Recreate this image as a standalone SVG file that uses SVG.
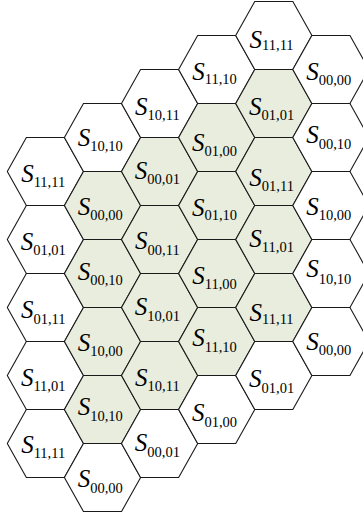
<svg xmlns="http://www.w3.org/2000/svg" xmlns:xlink="http://www.w3.org/1999/xlink" width="363" height="517" viewBox="0 0 363 517">
<style>
.hw{fill:#ffffff}
.hg{fill:#e9eddd}
use{stroke:#1a1a1a;stroke-width:1.1;stroke-linejoin:miter}
text{font-family:"Liberation Serif","Times New Roman",serif;fill:#000;text-anchor:middle}
.S{font-style:italic;font-size:25px}
.sub{font-size:14.5px}
</style>
<defs>
<polygon id="hx" points="-38.1,0 -19.05,-34 19.05,-34 38.1,0 19.05,34 -19.05,34"/>
</defs>
<g id="nodes">
<!-- column 0 -->
<g id="c0r0"><use href="#hx" x="45.4" y="171.5" class="hw"/><text x="43.2" y="181.5"><tspan class="S">S</tspan><tspan class="sub" dy="5.5">11,11</tspan></text></g>
<g id="c0r1"><use href="#hx" x="45.4" y="239.5" class="hw"/><text x="43.2" y="249.5"><tspan class="S">S</tspan><tspan class="sub" dy="5.5">01,01</tspan></text></g>
<g id="c0r2"><use href="#hx" x="45.4" y="307.5" class="hw"/><text x="43.2" y="318"><tspan class="S">S</tspan><tspan class="sub" dy="5.5">01,11</tspan></text></g>
<g id="c0r3"><use href="#hx" x="45.4" y="375.5" class="hw"/><text x="43.2" y="385.5"><tspan class="S">S</tspan><tspan class="sub" dy="5.5">11,01</tspan></text></g>
<g id="c0r4"><use href="#hx" x="45.4" y="443.5" class="hw"/><text x="43.2" y="452.5"><tspan class="S">S</tspan><tspan class="sub" dy="5.5">11,11</tspan></text></g>
<!-- column 1 -->
<g id="c1r0"><use href="#hx" x="102.5" y="137.5" class="hw"/><text x="100.3" y="145.5"><tspan class="S">S</tspan><tspan class="sub" dy="5.5">10,10</tspan></text></g>
<g id="c1r1"><use href="#hx" x="102.5" y="205.5" class="hg"/><text x="100.3" y="214.5"><tspan class="S">S</tspan><tspan class="sub" dy="5">00,00</tspan></text></g>
<g id="c1r2"><use href="#hx" x="102.5" y="273.5" class="hg"/><text x="100.3" y="279.5"><tspan class="S">S</tspan><tspan class="sub" dy="5.5">00,10</tspan></text></g>
<g id="c1r3"><use href="#hx" x="102.5" y="341.5" class="hg"/><text x="100.3" y="350.5"><tspan class="S">S</tspan><tspan class="sub" dy="5.5">10,00</tspan></text></g>
<g id="c1r4"><use href="#hx" x="102.5" y="409.5" class="hg"/><text x="100.3" y="415"><tspan class="S">S</tspan><tspan class="sub" dy="5.5">10,10</tspan></text></g>
<g id="c1r5"><use href="#hx" x="102.5" y="477.5" class="hw"/><text x="100.3" y="487"><tspan class="S">S</tspan><tspan class="sub" dy="5.5">00,00</tspan></text></g>
<!-- column 2 -->
<g id="c2r0"><use href="#hx" x="159.6" y="103.5" class="hw"/><text x="157.4" y="114.5"><tspan class="S">S</tspan><tspan class="sub" dy="5">10,11</tspan></text></g>
<g id="c2r1"><use href="#hx" x="159.6" y="171.5" class="hg"/><text x="157.4" y="179"><tspan class="S">S</tspan><tspan class="sub" dy="5">00,01</tspan></text></g>
<g id="c2r2"><use href="#hx" x="159.6" y="239.5" class="hg"/><text x="157.4" y="249"><tspan class="S">S</tspan><tspan class="sub" dy="5.5">00,11</tspan></text></g>
<g id="c2r3"><use href="#hx" x="159.6" y="307.5" class="hg"/><text x="157.4" y="315"><tspan class="S">S</tspan><tspan class="sub" dy="5.5">10,01</tspan></text></g>
<g id="c2r4"><use href="#hx" x="159.6" y="375.5" class="hg"/><text x="157.4" y="385.5"><tspan class="S">S</tspan><tspan class="sub" dy="5">10,11</tspan></text></g>
<g id="c2r5"><use href="#hx" x="159.6" y="443.5" class="hw"/><text x="157.4" y="451"><tspan class="S">S</tspan><tspan class="sub" dy="6">00,01</tspan></text></g>
<!-- column 3 -->
<g id="c3r0"><use href="#hx" x="216.7" y="69.5" class="hw"/><text x="214.5" y="79.5"><tspan class="S">S</tspan><tspan class="sub" dy="4">11,10</tspan></text></g>
<g id="c3r1"><use href="#hx" x="216.7" y="137.5" class="hg"/><text x="214.5" y="150.5"><tspan class="S">S</tspan><tspan class="sub" dy="5">01,00</tspan></text></g>
<g id="c3r2"><use href="#hx" x="216.7" y="205.5" class="hg"/><text x="214.5" y="216"><tspan class="S">S</tspan><tspan class="sub" dy="4">01,10</tspan></text></g>
<g id="c3r3"><use href="#hx" x="216.7" y="273.5" class="hg"/><text x="214.5" y="283.5"><tspan class="S">S</tspan><tspan class="sub" dy="5">11,00</tspan></text></g>
<g id="c3r4"><use href="#hx" x="216.7" y="341.5" class="hg"/><text x="214.5" y="346"><tspan class="S">S</tspan><tspan class="sub" dy="6">11,10</tspan></text></g>
<g id="c3r5"><use href="#hx" x="216.7" y="409.5" class="hw"/><text x="214.5" y="421"><tspan class="S">S</tspan><tspan class="sub" dy="6">01,00</tspan></text></g>
<!-- column 4 -->
<g id="c4r0"><use href="#hx" x="273.8" y="35.5" class="hw"/><text x="271.6" y="47.5"><tspan class="S">S</tspan><tspan class="sub" dy="2.5">11,11</tspan></text></g>
<g id="c4r1"><use href="#hx" x="273.8" y="103.5" class="hg"/><text x="271.6" y="114.5"><tspan class="S">S</tspan><tspan class="sub" dy="5">01,01</tspan></text></g>
<g id="c4r2"><use href="#hx" x="273.8" y="171.5" class="hg"/><text x="271.6" y="185.5"><tspan class="S">S</tspan><tspan class="sub" dy="5">01,11</tspan></text></g>
<g id="c4r3"><use href="#hx" x="273.8" y="239.5" class="hg"/><text x="271.6" y="246.5"><tspan class="S">S</tspan><tspan class="sub" dy="5">11,01</tspan></text></g>
<g id="c4r4"><use href="#hx" x="273.8" y="307.5" class="hg"/><text x="271.6" y="320.5"><tspan class="S">S</tspan><tspan class="sub" dy="3">11,11</tspan></text></g>
<g id="c4r5"><use href="#hx" x="273.8" y="375.5" class="hw"/><text x="271.6" y="386.5"><tspan class="S">S</tspan><tspan class="sub" dy="6">01,01</tspan></text></g>
<!-- column 5 -->
<g id="c5r0"><use href="#hx" x="330.9" y="69.5" class="hw"/><text x="328.7" y="79.5"><tspan class="S">S</tspan><tspan class="sub" dy="5">00,00</tspan></text></g>
<g id="c5r1"><use href="#hx" x="330.9" y="137.5" class="hw"/><text x="328.7" y="143"><tspan class="S">S</tspan><tspan class="sub" dy="6">00,10</tspan></text></g>
<g id="c5r2"><use href="#hx" x="330.9" y="205.5" class="hw"/><text x="328.7" y="215"><tspan class="S">S</tspan><tspan class="sub" dy="5">10,00</tspan></text></g>
<g id="c5r3"><use href="#hx" x="330.9" y="273.5" class="hw"/><text x="328.7" y="277"><tspan class="S">S</tspan><tspan class="sub" dy="6.5">10,10</tspan></text></g>
<g id="c5r4"><use href="#hx" x="330.9" y="341.5" class="hw"/><text x="328.7" y="350"><tspan class="S">S</tspan><tspan class="sub" dy="5">00,00</tspan></text></g>
</g>
<g id="connectors"/>
</svg>
